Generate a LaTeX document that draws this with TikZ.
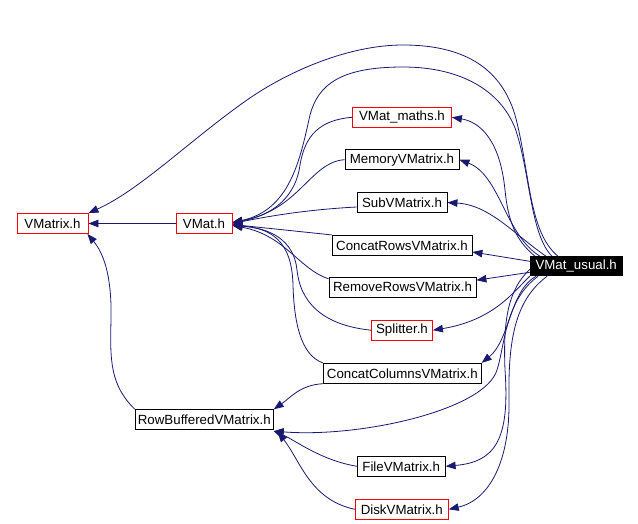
\documentclass[tikz,border=0pt]{standalone}
\usepackage{fontspec}
\setmainfont{Liberation Sans}
\usepackage{xcolor}
\usepackage{tikz}
\usetikzlibrary{arrows.meta,backgrounds}
\definecolor{edgenavy}{HTML}{191970}
\definecolor{linkred}{HTML}{FF0000}
\tikzset{
  filebox/.style={rectangle, draw=black, line width=0.8pt, fill=white, inner sep=0pt, minimum height=20pt, font=\fontsize{13.3}{15}\selectfont},
  redbox/.style={filebox, draw=linkred},
  rootbox/.style={filebox, fill=black, text=white, minimum height=19pt},
  incl/.style={-{Triangle[length=10pt,width=7.5pt]}, edgenavy, line width=0.8pt}
}
\begin{document}
\begin{tikzpicture}[x=1pt, y=-1pt]
\useasboundingbox (0,0) rectangle (638,524);

% Left column
\node[redbox, minimum width=71pt] (vmatrix) at (52.5,223.5) {VMatrix.h};
\node[redbox, minimum width=56pt] (vmat) at (204,223.5) {VMat.h};
\node[filebox, minimum width=138pt] (rowbuf) at (204.3,419.7) {RowBufferedVMatrix.h};

% Middle column
\node[redbox, minimum width=99pt] (vmaths) at (402,117.3) {VMat\_maths.h};
\node[filebox, minimum width=114pt] (memvm) at (402,159.7) {MemoryVMatrix.h};
\node[filebox, minimum width=90pt] (subvm) at (402,202.5) {SubVMatrix.h};
\node[filebox, minimum width=140pt] (catrows) at (402,245.3) {ConcatRowsVMatrix.h};
\node[filebox, minimum width=147pt] (remrows) at (402.5,287.2) {RemoveRowsVMatrix.h};
\node[redbox, minimum width=61pt] (splitter) at (402,330.2) {Splitter.h};
\node[filebox, minimum width=158pt] (catcols) at (402.3,373.3) {ConcatColumnsVMatrix.h};
\node[filebox, minimum width=88pt] (filevm) at (401.2,466.3) {FileVMatrix.h};
\node[redbox, minimum width=93pt] (diskvm) at (401.8,509.3) {DiskVMatrix.h};

% Root
\node[rootbox, minimum width=92pt] (usual) at (576.2,266.3) {VMat\_usual.h};

\begin{scope}[on background layer]
% Into VMatrix.h
\draw[incl] (vmat.west) -- (vmatrix.east);
\draw[incl] (rowbuf.north west) .. controls (110,385) and (110,360) .. (111,320)
  .. controls (112,280) and (105,255) .. ([xshift=-1pt]vmatrix.south east);
\draw[incl] ([xshift=-18pt]usual.north) .. controls (528,232) and (530,170) .. (515,115)
  .. controls (500,65) and (460,45) .. (403,45)
  .. controls (350,45) and (290,70) .. (247,100)
  .. controls (190,140) and (140,190) .. (vmatrix.north east);

% Into VMat.h
\draw[incl] ([xshift=-24pt]usual.north) .. controls (530,235) and (530,170) .. (515,128)
  .. controls (500,90) and (460,67) .. (403,67)
  .. controls (340,67) and (318,85) .. (310,115)
  .. controls (300,160) and (290,210) .. ([yshift=1pt]vmat.east);
\draw[incl] (vmaths.west) .. controls (320,120) and (305,135) .. (300,165)
  .. controls (296,195) and (275,215) .. ([yshift=1pt]vmat.east);
\draw[incl] (memvm.west) .. controls (310,162) and (300,210) .. ([yshift=1pt]vmat.east);
\draw[incl] ([yshift=-4.5pt]subvm.west) .. controls (300,210) and (260,218) .. (vmat.east);
\draw[incl] (catrows.north west) -- ([yshift=-1pt]vmat.east);
\draw[incl] ([yshift=-2pt]remrows.north west) .. controls (300,270) and (285,235) .. ([yshift=-2pt]vmat.east);
\draw[incl] (splitter.west) .. controls (320,325) and (300,300) .. (297,270)
  .. controls (294,240) and (270,228) .. ([yshift=-2pt]vmat.east);
\draw[incl] (catcols.north west) .. controls (300,355) and (294,320) .. (293,285)
  .. controls (292,240) and (270,228) .. ([yshift=-2pt]vmat.east);

% From VMat_usual.h
\draw[incl] ([xshift=-41pt]usual.north) .. controls (515,240) and (508,220) .. (505,190)
  .. controls (500,140) and (480,122) .. (vmaths.east);
\draw[incl] ([xshift=-36pt]usual.north) .. controls (505,235) and (500,175) .. (memvm.east);
\draw[incl] ([xshift=-30pt]usual.north) .. controls (515,235) and (490,205) .. (subvm.east);
\draw[incl] ([yshift=5pt]usual.west) -- ([yshift=-6.7pt]catrows.east);
\draw[incl] ([yshift=-6pt]usual.west) -- ([yshift=7pt]remrows.east);
\draw[incl] (usual.south west) .. controls (515,290) and (495,320) .. (splitter.east);
\draw[incl] ([xshift=-40pt]usual.south) .. controls (510,290) and (510,340) .. (catcols.north east);
\draw[incl] ([xshift=-38pt]usual.south) .. controls (505,300) and (505,345) .. (497,370)
  .. controls (485,410) and (360,438) .. ([yshift=-1pt]rowbuf.south east);
\draw[incl] ([yshift=-3pt]usual.west) .. controls (508,290) and (503,320) .. (505,370)
  .. controls (510,440) and (495,462) .. (filevm.east);
\draw[incl] ([xshift=-29pt]usual.south) .. controls (515,300) and (508,340) .. (509,400)
  .. controls (510,460) and (490,500) .. (diskvm.east);

% Into RowBufferedVMatrix.h
\draw[incl] (catcols.south west) .. controls (300,385) and (290,398) .. (rowbuf.north east);
\draw[incl] (filevm.west) .. controls (320,460) and (295,440) .. ([yshift=-1pt]rowbuf.south east);
\draw[incl] (diskvm.west) .. controls (310,500) and (300,460) .. ([xshift=4pt,yshift=-2pt]rowbuf.south east);
\end{scope}

\end{tikzpicture}
\end{document}
